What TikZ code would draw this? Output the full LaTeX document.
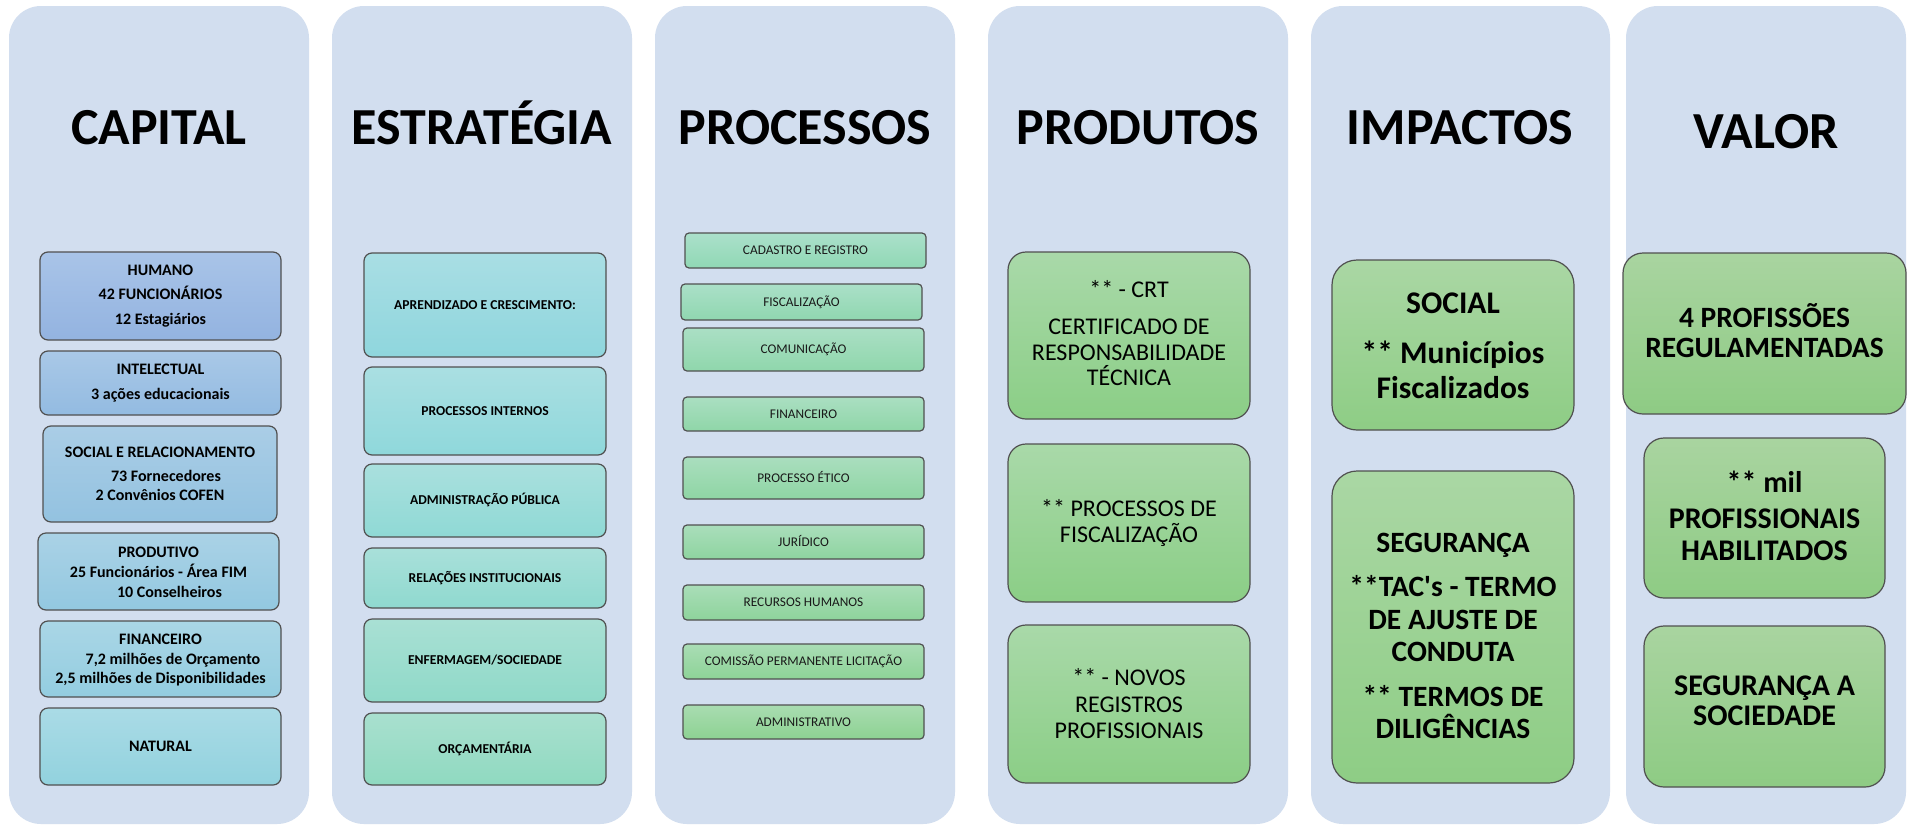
\documentclass[tikz,border=0pt]{standalone}
\usepackage{fontspec}
\setmainfont{Carlito}
\definecolor{colbg}{HTML}{D2DEEF}
\definecolor{bord}{HTML}{505050}
\definecolor{hT}{HTML}{A9C4E8}\definecolor{hB}{HTML}{93B3E0}
\definecolor{iT}{HTML}{A9C8E7}\definecolor{iB}{HTML}{93BBE1}
\definecolor{sT}{HTML}{AACDE6}\definecolor{sB}{HTML}{93C2E0}
\definecolor{pT}{HTML}{AAD2E6}\definecolor{pB}{HTML}{93C8E0}
\definecolor{fT}{HTML}{AAD6E6}\definecolor{fB}{HTML}{93CDE0}
\definecolor{nT}{HTML}{AADBE6}\definecolor{nB}{HTML}{92D2DE}
\definecolor{e1T}{HTML}{A9DEE4}\definecolor{e1B}{HTML}{8FD6DD}
\definecolor{e2T}{HTML}{AADFE2}\definecolor{e2B}{HTML}{8FD8DB}
\definecolor{e3T}{HTML}{AAE0DE}\definecolor{e3B}{HTML}{8FD9D5}
\definecolor{e4T}{HTML}{A9E0DA}\definecolor{e4B}{HTML}{8FD9CF}
\definecolor{e5T}{HTML}{A9E0D4}\definecolor{e5B}{HTML}{8FD9C8}
\definecolor{e6T}{HTML}{A9E0CF}\definecolor{e6B}{HTML}{8FD9C0}
\definecolor{qaT}{HTML}{ABE0CB}\definecolor{qaB}{HTML}{90D8B4}
\definecolor{qbT}{HTML}{A9DCB1}\definecolor{qbB}{HTML}{8DD292}
\definecolor{oT}{HTML}{A9D9A9}\definecolor{oB}{HTML}{8BCE86}
\definecolor{mT}{HTML}{AAD7A4}\definecolor{mB}{HTML}{8ECD85}
\definecolor{vT}{HTML}{A9D4A0}\definecolor{vB}{HTML}{8ECB84}
\tikzset{
  col/.style={fill=colbg, rounded corners=32pt, inner sep=0pt, minimum height=818pt},
  ttl/.style={font=\fontsize{52}{60}\selectfont\bfseries, inner sep=0pt, text height=34pt, text depth=0pt},
  bx/.style={draw=bord, line width=1.2pt, inner sep=0pt},
  capbox/.style={bx, rounded corners=8pt, minimum width=241pt},
  strbox/.style={bx, rounded corners=8pt, minimum width=242pt, font=\fontsize{13.6}{15}\selectfont\bfseries, text height=8.8pt, text depth=0pt},
  prcbox/.style={bx, rounded corners=4pt, minimum width=241pt, font=\fontsize{13.3}{15}\selectfont, text=black!90, text height=8.6pt, text depth=0pt},
  prdbox/.style={bx, rounded corners=18pt, minimum width=242pt, top color=oT, bottom color=oB},
  impbox/.style={bx, rounded corners=25pt, minimum width=242pt, top color=mT, bottom color=mB},
  valbox/.style={bx, rounded corners=20pt, top color=vT, bottom color=vB},
  tx/.style={align=center, inner sep=0pt}
}
\begin{document}
\begin{tikzpicture}[x=1pt,y=-1pt]
\useasboundingbox (0,0) rectangle (1908,825);
\fill[white] (0,0) rectangle (1908,825);
% columns
\node[col, minimum width=300pt] (colA) at (159,415) {};
\node[col, minimum width=300pt] (colB) at (482,415) {};
\node[col, minimum width=300pt] (colC) at (805,415) {};
\node[col, minimum width=300pt] (colD) at (1138,415) {};
\node[col, minimum width=299pt] (colE) at (1460.5,415) {};
\node[col, minimum width=280pt] (colF) at (1766,415) {};
% titles
\node[ttl] (tA) at (159,127) {CAPITAL};
\node[ttl] (tB) at (482,127) {ESTRATÉGIA};
\node[ttl] (tC) at (805,127) {PROCESSOS};
\node[ttl] (tD) at (1138,127) {PRODUTOS};
\node[ttl] (tE) at (1460,127) {IMPACTOS};
\node[ttl] (tF) at (1766,131) {VALOR};
% capital
\node[capbox, minimum height=88pt, top color=hT, bottom color=hB] (cap1) at (160.5,296) {};
\node[tx, font=\fontsize{16}{24.5}\selectfont\bfseries] (cap1t) at (160.5,296) {HUMANO\\42 FUNCIONÁRIOS\\12 Estagiários};
\node[capbox, minimum height=64pt, top color=iT, bottom color=iB] (cap2) at (160.5,383) {};
\node[tx, font=\fontsize{16}{25}\selectfont\bfseries] (cap2t) at (160.5,383) {INTELECTUAL\\3 ações educacionais};
\node[capbox, minimum width=234pt, minimum height=96pt, top color=sT, bottom color=sB] (cap3) at (160,474) {};
\node[tx, font=\fontsize{16}{18.5}\selectfont\bfseries] (cap3t) at (160,474) {SOCIAL E RELACIONAMENTO\\[5.5pt]\hspace*{12pt}73 Fornecedores\\2 Convênios COFEN};
\node[capbox, minimum height=77pt, top color=pT, bottom color=pB] (cap4) at (158.5,571.5) {};
\node[tx, font=\fontsize{16}{20}\selectfont\bfseries] (cap4t) at (158.5,572) {PRODUTIVO\\25 Funcionários - Área FIM\\\hspace*{22pt}10 Conselheiros};
\node[capbox, minimum height=76pt, top color=fT, bottom color=fB] (cap5) at (160.5,659) {};
\node[tx, font=\fontsize{16}{19.5}\selectfont\bfseries] (cap5t) at (160.5,660) {FINANCEIRO\\\hspace*{25pt}7,2 milhões de Orçamento\\2,5 milhões de Disponibilidades};
\node[capbox, minimum height=77pt, top color=nT, bottom color=nB, font=\fontsize{16}{18}\selectfont\bfseries, text height=10.3pt, text depth=0pt] (cap6) at (160.5,746.5) {NATURAL};
% estrategia
\node[strbox, minimum height=104pt, top color=e1T, bottom color=e1B] (est1) at (485,305) {APRENDIZADO E CRESCIMENTO:};
\node[strbox, minimum height=88pt, top color=e2T, bottom color=e2B] (est2) at (485,411) {PROCESSOS INTERNOS};
\node[strbox, minimum height=73pt, top color=e3T, bottom color=e3B] (est3) at (485,500.5) {ADMINISTRAÇÃO PÚBLICA};
\node[strbox, minimum height=60pt, top color=e4T, bottom color=e4B] (est4) at (485,578) {RELAÇÕES INSTITUCIONAIS};
\node[strbox, minimum height=83pt, top color=e5T, bottom color=e5B] (est5) at (485,660.5) {ENFERMAGEM/SOCIEDADE};
\node[strbox, minimum height=72pt, top color=e6T, bottom color=e6B] (est6) at (485,749) {ORÇAMENTÁRIA};
% processos
\node[prcbox, minimum height=35pt, top color=qaT, bottom color=qaB] (pr1) at (805.5,250.5) {CADASTRO E REGISTRO};
\node[prcbox, minimum height=36pt, top color=qaT!88!qbT, bottom color=qaB!88!qbB] (pr2) at (801.5,302) {FISCALIZAÇÃO};
\node[prcbox, minimum height=43pt, top color=qaT!76!qbT, bottom color=qaB!76!qbB] (pr3) at (803.5,349.5) {COMUNICAÇÃO};
\node[prcbox, minimum height=34pt, top color=qaT!64!qbT, bottom color=qaB!64!qbB] (pr4) at (803.5,414) {FINANCEIRO};
\node[prcbox, minimum height=42pt, top color=qaT!52!qbT, bottom color=qaB!52!qbB] (pr5) at (803.5,478) {PROCESSO ÉTICO};
\node[prcbox, minimum height=34pt, top color=qaT!40!qbT, bottom color=qaB!40!qbB] (pr6) at (803.5,542) {JURÍDICO};
\node[prcbox, minimum height=35pt, top color=qaT!28!qbT, bottom color=qaB!28!qbB] (pr7) at (803.5,602.5) {RECURSOS HUMANOS};
\node[prcbox, minimum height=35pt, top color=qaT!14!qbT, bottom color=qaB!14!qbB] (pr8) at (803.5,661.5) {COMISSÃO PERMANENTE LICITAÇÃO};
\node[prcbox, minimum height=34pt, top color=qbT, bottom color=qbB] (pr9) at (803.5,722) {ADMINISTRATIVO};
% produtos
\node[prdbox, minimum height=167pt] (prd1) at (1129,335.5) {};
\node[tx, font=\fontsize{24}{25.5}\selectfont] (prd1t) at (1129,333.5) {** - CRT\\[11.5pt]CERTIFICADO DE\\RESPONSABILIDADE\\TÉCNICA};
\node[prdbox, minimum height=158pt] (prd2) at (1129,523) {};
\node[tx, font=\fontsize{24}{26}\selectfont] (prd2t) at (1129,523) {** PROCESSOS DE\\FISCALIZAÇÃO};
\node[prdbox, minimum height=158pt] (prd3) at (1129,704) {};
\node[tx, font=\fontsize{24}{26.5}\selectfont] (prd3t) at (1129,704) {** - NOVOS\\REGISTROS\\PROFISSIONAIS};
% impactos
\node[impbox, minimum height=170pt] (imp1) at (1453,345) {};
\node[tx, font=\fontsize{31.5}{35}\selectfont\bfseries] (imp1t) at (1453,346) {SOCIAL\\[15pt]** Municípios\\Fiscalizados};
\node[impbox, minimum height=312pt] (imp2) at (1453,627) {};
\node[tx, font=\fontsize{29.5}{32.5}\selectfont\bfseries] (imp2t) at (1453,636) {SEGURANÇA\\[11.5pt]**TAC\textquotesingle s - TERMO\\DE AJUSTE DE\\CONDUTA\\[12pt]** TERMOS DE\\DILIGÊNCIAS};
% valor
\node[valbox, minimum width=283pt, minimum height=161pt] (val1) at (1764.5,333.5) {};
\node[tx, font=\fontsize{29.5}{30}\selectfont\bfseries] (val1t) at (1764.5,331) {4 PROFISSÕES\\REGULAMENTADAS};
\node[valbox, minimum width=241pt, minimum height=160pt] (val2) at (1764.5,518) {};
\node[tx, font=\fontsize{30}{32}\selectfont\bfseries] (val2t) at (1764.5,516) {** mil\\[3.5pt]PROFISSIONAIS\\HABILITADOS};
\node[valbox, minimum width=241pt, minimum height=161pt] (val3) at (1764.5,706.5) {};
\node[tx, font=\fontsize{30}{29.5}\selectfont\bfseries] (val3t) at (1764.5,701) {SEGURANÇA A\\SOCIEDADE};
\end{tikzpicture}
\end{document}
